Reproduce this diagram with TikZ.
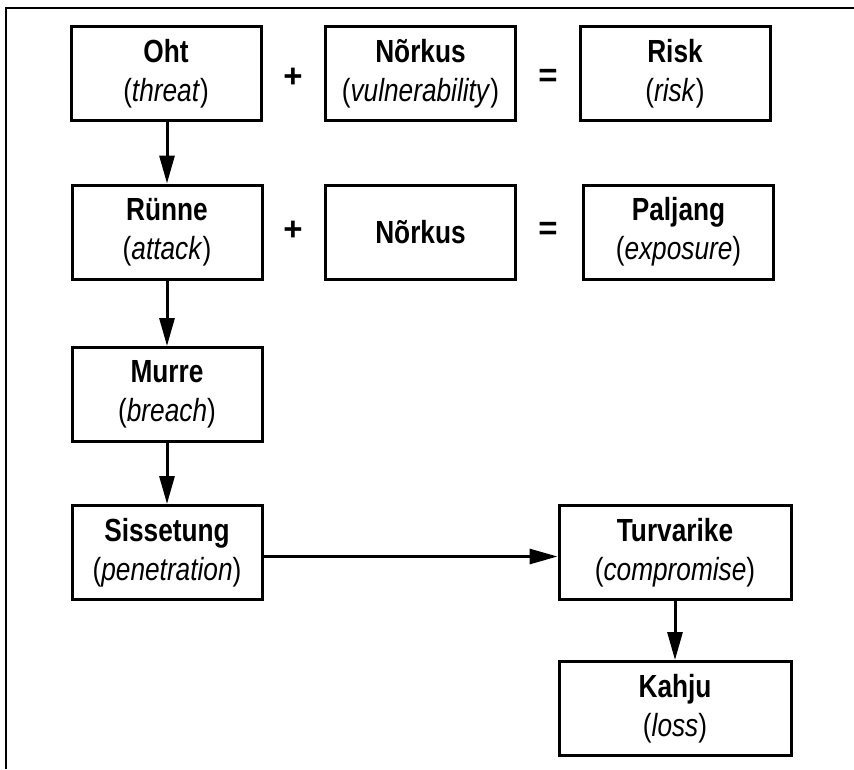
\documentclass[tikz,border=0pt]{standalone}
\usepackage{fontspec}
\setmainfont{Liberation Sans}[FakeStretch=0.82]
\newfontfamily\signfont{Liberation Sans}
\usetikzlibrary{arrows.meta}

\begin{document}
\begin{tikzpicture}[x=1pt, y=-1pt,
  box/.style={draw, line width=3pt, minimum width=190pt, minimum height=94pt,
    inner sep=0pt, align=center, font=\fontsize{32}{39}\selectfont},
  wide/.style={box, minimum width=232pt},
  sign/.style={inner sep=0pt, font=\signfont\bfseries\fontsize{33}{39}\selectfont},
  arr/.style={line width=3pt, -{Triangle[length=28pt,width=15pt]}}]
  \useasboundingbox (0,0) rectangle (854,769);
  \draw[line width=2pt] (6,769) -- (6,8) -- (854,8);
  \node[box] (oht) at (166,73.5) {\textbf{Oht}\\(\textit{threat})};
  \node[sign] (plus1) at (293,78) {+};
  \node[box] (norkus1) at (420.5,73.5) {\textbf{Nõrkus}\\(\textit{vulnerability})};
  \node[sign] (eq1) at (548,78) {=};
  \node[box] (risk) at (675,73.5) {\textbf{Risk}\\(\textit{risk})};
  \node[box] (rynne) at (167,232) {\textbf{Rünne}\\(\textit{attack})};
  \node[sign] (plus2) at (293,231) {+};
  \node[box] (norkus2) at (420.5,232) {\textbf{Nõrkus}};
  \node[sign] (eq2) at (548,231) {=};
  \node[box] (paljang) at (678.5,232) {\textbf{Paljang}\\(\textit{exposure})};
  \node[box] (murre) at (167,394.5) {\textbf{Murre}\\(\textit{breach})};
  \node[box] (sissetung) at (167,552.5) {\textbf{Sissetung}\\(\textit{penetration})};
  \node[wide] (turvarike) at (675,552.5) {\textbf{Turvarike}\\(\textit{compromise})};
  \node[wide] (kahju) at (675,708.5) {\textbf{Kahju}\\(\textit{loss})};
  \draw[arr] (rynne.north |- oht.south) -- (rynne);
  \draw[arr] (rynne) -- (murre);
  \draw[arr] (murre) -- (sissetung);
  \draw[arr] ([yshift=-4pt]sissetung.east) -- ([yshift=-4pt]turvarike.west);
  \draw[arr] (turvarike) -- (kahju);
\end{tikzpicture}
\end{document}
